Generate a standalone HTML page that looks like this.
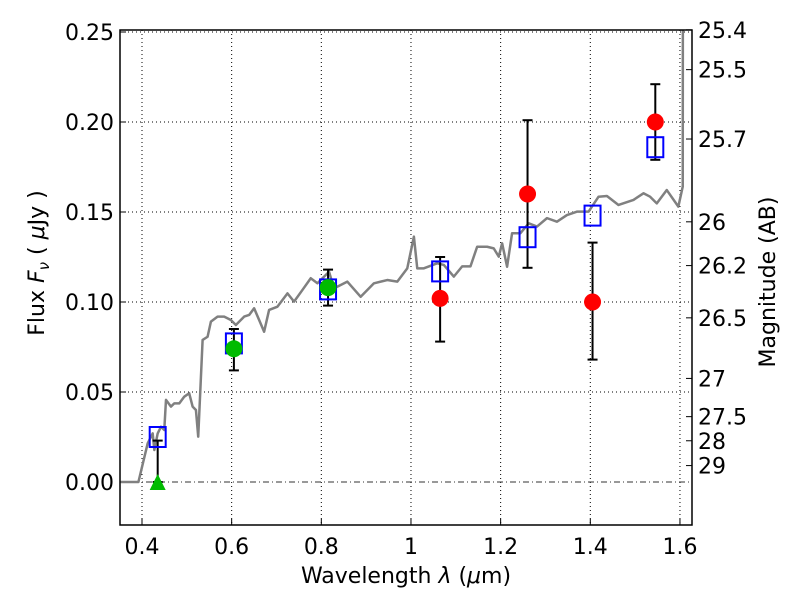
<!DOCTYPE html>
<html><head><meta charset="utf-8"><style>
body{margin:0;background:#fff;}
svg{display:block;font-family:"DejaVu Sans","Liberation Sans",sans-serif;}
</style></head><body>
<svg id="chart" width="800" height="600"></svg>
<script>
const specLam=[0.353,0.392,0.4127,0.4238,0.4275,0.435,0.4423,0.4497,0.4535,0.4646,0.472,0.4832,0.4943,0.5053,0.5129,0.5203,0.5254,0.5352,0.5463,0.5537,0.5686,0.5833,0.5982,0.6094,0.6279,0.639,0.6501,0.6613,0.6724,0.6835,0.7022,0.7245,0.7392,0.7579,0.7764,0.7913,0.8172,0.8283,0.8581,0.8878,0.9174,0.9471,0.9695,0.9917,1.0065,1.014,1.0287,1.0585,1.0733,1.0955,1.1142,1.1327,1.1476,1.1699,1.1846,1.1958,1.2033,1.2144,1.2255,1.2441,1.2626,1.2811,1.3034,1.3256,1.3479,1.3701,1.3961,1.4184,1.4371,1.4629,1.4963,1.5186,1.5334,1.5483,1.5706,1.5964,1.6062,1.6066,1.612,1.615];
const specFlux=[0,0,0.0215,0.027,0.0178,0.027,0.0307,0.0289,0.0456,0.0419,0.0437,0.0437,0.0474,0.0493,0.0419,0.04,0.0252,0.0789,0.0807,0.0891,0.0919,0.0919,0.09,0.0872,0.0919,0.0928,0.0965,0.09,0.0835,0.0956,0.0974,0.1048,0.1002,0.1067,0.1132,0.1104,0.1168,0.1076,0.1113,0.1029,0.1104,0.1122,0.1113,0.1187,0.1363,0.1187,0.1187,0.1215,0.1206,0.1141,0.1198,0.1198,0.1307,0.1307,0.1298,0.1252,0.1326,0.1196,0.1382,0.1382,0.1437,0.1419,0.1466,0.1446,0.1483,0.1502,0.1502,0.1585,0.1589,0.1539,0.1567,0.1604,0.1585,0.1548,0.1622,0.153,0.1641,0.3,0.3,0.3];
const modelLam=[0.435,0.605,0.815,1.065,1.26,1.405,1.545];
const modelFlux=[0.025,0.077,0.107,0.117,0.136,0.148,0.186];
const greenLam=[0.605,0.815];
const greenFlux=[0.074,0.108];
const limLam=[0.435];
const limFlux=[0.0];
const redLam=[1.065,1.26,1.405,1.545];
const redFlux=[0.102,0.160,0.100,0.200];
const errLam=[0.435,0.605,0.815,1.065,1.26,1.405,1.545];
const errLo=[0.0,0.062,0.098,0.078,0.119,0.068,0.179];
const errHi=[0.023,0.085,0.118,0.125,0.201,0.133,0.221];
const xTicks=[0.4,0.6,0.8,1.0,1.2,1.4,1.6];
const xTickLabels=["0.4","0.6","0.8","1","1.2","1.4","1.6"];
const yTicks=[0,0.05,0.1,0.15,0.2,0.25];
const yTickLabels=["0.00","0.05","0.10","0.15","0.20","0.25"];
const magTicks=[25.4,25.5,25.7,26,26.2,26.5,27,27.5,28,29];
const magLabels=["25.4","25.5","25.7","26","26.2","26.5","27","27.5","28","29"];

const L=120,R=692,T=30,B=525;
const X=l=>142+(l-0.4)*448.3;
const Y=f=>482-f*1800;
const svg=document.getElementById('chart');
const NS='http://www.w3.org/2000/svg';
function mk(tag,attrs,parent){const e=document.createElementNS(NS,tag);for(const k in attrs)e.setAttribute(k,attrs[k]);(parent||svg).appendChild(e);return e;}
const defs=mk('defs',{});const cp=mk('clipPath',{id:'clip'},defs);mk('rect',{x:L,y:T,width:R-L,height:B-T},cp);
xTicks.forEach((t,i)=>{const g=mk('line',{x1:X(t),x2:X(t),y1:T,y2:B,stroke:'#000','stroke-width':1,'stroke-dasharray':'1,3'});


mk('line',{x1:X(t),x2:X(t),y1:B,y2:B-6,stroke:'#000'});
const tx=mk('text',{x:X(t),y:B+29,'font-size':22,'text-anchor':'middle'});tx.textContent=xTickLabels[i];

});
yTicks.forEach((t,i)=>{if(t>0){const g=mk('line',{x1:L,x2:R,y1:Y(t),y2:Y(t),stroke:'#000','stroke-width':1,'stroke-dasharray':'1,3'});

}
mk('line',{x1:L,x2:L+6,y1:Y(t),y2:Y(t),stroke:'#000'});
const tx=mk('text',{x:L-6,y:Y(t)+8,'font-size':22,'text-anchor':'end'});tx.textContent=yTickLabels[i];

});
const zl=mk('line',{x1:L,x2:R,y1:Y(0),y2:Y(0),stroke:'#333','stroke-width':1,'stroke-dasharray':'6,3,1,3'});


magTicks.forEach((m,i)=>{const f=Math.pow(10,(23.9-m)/2.5);const y=Y(f);
mk('line',{x1:R,x2:R-6,y1:y,y2:y,stroke:'#000'});
const tx=mk('text',{x:R+6,y:y+8,'font-size':22});tx.textContent=magLabels[i];

});
const g=mk('g',{'clip-path':'url(#clip)'});
const sp=mk('polyline',{points:specLam.map((l,i)=>X(l)+','+Y(specFlux[i])).join(' '),fill:'none',stroke:'#808080','stroke-width':2.5,'stroke-linejoin':'round'},g);


errLam.forEach((l,i)=>{const x=X(l);const e=mk('g',{stroke:'#000','stroke-width':2});


mk('line',{x1:x,x2:x,y1:Y(errLo[i]),y2:Y(errHi[i])},e);
mk('line',{x1:x-5,x2:x+5,y1:Y(errLo[i]),y2:Y(errLo[i])},e);
mk('line',{x1:x-5,x2:x+5,y1:Y(errHi[i]),y2:Y(errHi[i])},e);});
modelLam.forEach((l,i)=>{const r=mk('rect',{x:X(l)-8,y:Y(modelFlux[i])-10,width:16,height:20,fill:'none',stroke:'#0000ff','stroke-width':2});

});
greenLam.forEach((l,i)=>{const c=mk('circle',{cx:X(l),cy:Y(greenFlux[i]),r:8.5,fill:'#00bb00'});

});
limLam.forEach((l,i)=>{const x=X(l),y=Y(limFlux[i]);const p=mk('polygon',{points:`${x},${y-8} ${x-8},${y+8} ${x+8},${y+8}`,fill:'#00bb00'});

});
redLam.forEach((l,i)=>{const c=mk('circle',{cx:X(l),cy:Y(redFlux[i]),r:8.5,fill:'#ff0000'});

});
const fr=mk('rect',{x:L,y:T,width:R-L,height:B-T,fill:'none',stroke:'#000','stroke-width':1.5});


const xl=mk('text',{x:406,y:583,'font-size':22,'text-anchor':'middle'});xl.innerHTML='Wavelength  <tspan font-style="italic">λ</tspan> (<tspan font-style="italic">μ</tspan>m)';


const yl=mk('text',{x:44,y:263,'font-size':22,'text-anchor':'middle',transform:'rotate(-90 44 263)'});yl.innerHTML='Flux  <tspan font-style="italic">F</tspan><tspan font-style="italic" font-size="15" dy="5">ν</tspan><tspan dy="-5">  (  </tspan><tspan font-style="italic">μ</tspan>Jy )';


const ml=mk('text',{x:775,y:282,'font-size':22,'text-anchor':'middle',transform:'rotate(-90 775 282)'});ml.textContent='Magnitude (AB)';


</script>
</body></html>
